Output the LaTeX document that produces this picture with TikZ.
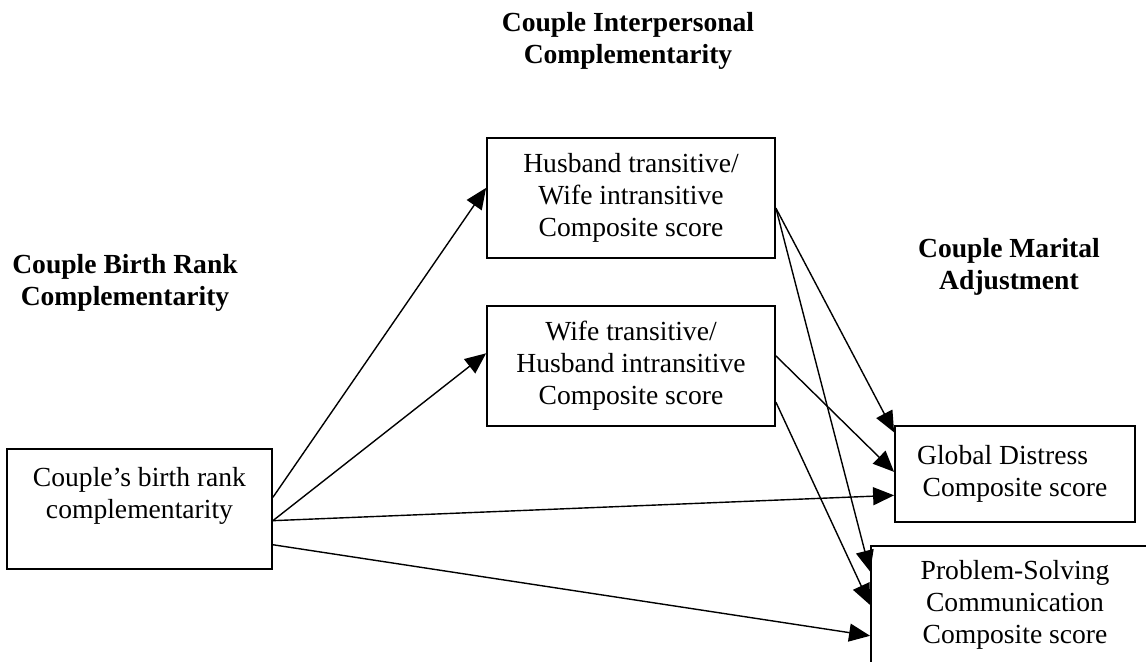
\documentclass[tikz,border=0pt]{standalone}
\usepackage{fontspec}
\setmainfont{Liberation Serif}
\usepackage{tikz}
\usetikzlibrary{arrows.meta}

\tikzset{
  box/.style={draw, line width=0.9pt, inner sep=0pt, align=center, font=\fontsize{13.8}{16}\selectfont},
  head/.style={inner sep=0pt, align=center, font=\fontsize{13.8}{16}\selectfont\bfseries},
  link/.style={line width=0.7pt, -{Triangle[length=10.5pt,width=9pt]}}
}

\begin{document}
\begin{tikzpicture}[x=0.5pt, y=-0.5pt]
\useasboundingbox (0,0) rectangle (1146,662);

\coordinate (L0) at (139.5,509);
\coordinate (H0) at (631,198);
\coordinate (W0) at (631,366);
\coordinate (G0) at (1015,474);
\coordinate (P0) at (1015,605);

\node[head] (T1) at (628,41) {Couple Interpersonal\\Complementarity};
\node[head] (T2) at (125,283) {Couple Birth Rank\\Complementarity};
\node[head] (T3) at (1009,267) {Couple Marital\\Adjustment};

\node[box, minimum width=132.5pt, minimum height=60pt] (L) at (L0) {Couple’s birth rank\\complementarity\\ \mbox{}};
\node[box, minimum width=144pt, minimum height=60pt] (H) at (H0) {Husband transitive/\\Wife intransitive\\Composite score};
\node[box, minimum width=144pt, minimum height=60pt] (W) at (W0) {Wife transitive/\\Husband intransitive\\Composite score};
\node[box, minimum width=120pt, minimum height=48pt] (G) at (G0) {Global Distress\hspace*{0.9em}\\Composite score};
\node[box, minimum width=144pt, minimum height=59pt] (P) at (P0) {Problem-Solving\\Communication\\Composite score};

\draw[link] (L.5.2) to (H.176);
\draw[link] (L.-5.2) to (W.175.6);
\draw[link] (L.-5.2) to (G.190.9);
\draw[link] (L.-15.2) to (P.192.9);

\draw[link] (H.-4.8) to (G.161.1);
\draw[link] (H.-4.8) to (P.167.5);
\draw[link] (W.4.4) to (G.179.5);
\draw[link] (W.-14.4) to (P.180.8);
\end{tikzpicture}
\end{document}
